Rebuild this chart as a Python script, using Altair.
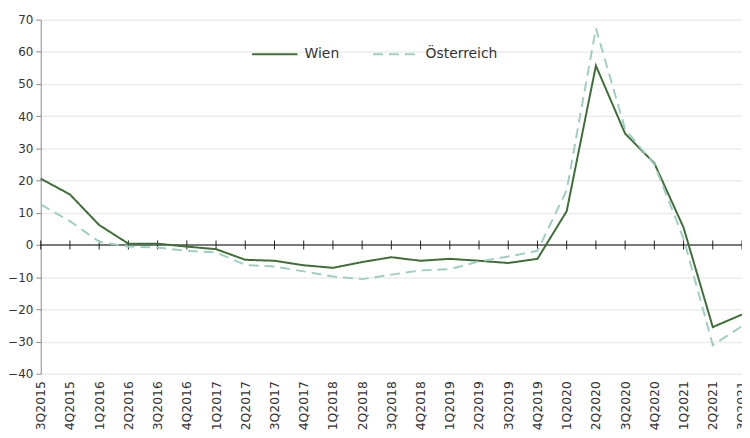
import altair as alt
import pandas as pd

quarters = ["3Q2015","4Q2015","1Q2016","2Q2016","3Q2016","4Q2016","1Q2017","2Q2017",
            "3Q2017","4Q2017","1Q2018","2Q2018","3Q2018","4Q2018","1Q2019","2Q2019",
            "3Q2019","4Q2019","1Q2020","2Q2020","3Q2020","4Q2020","1Q2021","2Q2021","3Q2021"]
wien = [20.6, 15.7, 6.2, 0.4, 0.4, -0.5, -1.3, -4.6, -4.9, -6.3, -7.1, -5.3, -3.8, -4.9,
        -4.3, -4.9, -5.6, -4.3, 10.5, 55.7, 34.6, 25.4, 5.4, -25.5, -21.6]
oesterreich = [12.6, 7.4, 1.0, -0.5, -0.8, -1.8, -2.3, -6.2, -6.7, -8.2, -9.8, -10.6, -9.2,
               -7.9, -7.5, -5.1, -3.6, -1.8, 17.0, 67.3, 36.0, 25.0, 2.0, -31.1, -25.2]
series_names = ["Wien", "Österreich"]
series_colors = ["#3f6f37", "#a0cfc2"]
y_ticks = list(range(-40, 80, 10))

rows = []
for q, w, o in zip(quarters, wien, oesterreich):
    rows.append({"q": q, "v": w, "s": series_names[0]})
    rows.append({"q": q, "v": o, "s": series_names[1]})
df = pd.DataFrame(rows)
zero_df = pd.DataFrame({"q": quarters, "v": [0] * len(quarters)})

font = "DejaVu Sans"

x_scale = alt.Scale(type="point", padding=0)
y_scale = alt.Scale(domain=[-40, 70], nice=False)
x_axis = alt.Axis(title=None, labelAngle=-90, ticks=False, domain=False, grid=False,
                  labelFontSize=12.5, labelColor="#333", labelPadding=7, labelFont=font)
y_axis = alt.Axis(title=None, values=y_ticks, grid=True,
                  gridColor="#ececec", gridWidth=1.5, domainColor="#8a8a8a",
                  tickColor="#8a8a8a", tickSize=5, labelFontSize=12,
                  labelColor="#333", labelPadding=3, labelFont=font,
                  labelOverlap=False)

x_enc = alt.X("q:N", sort=quarters, scale=x_scale, axis=x_axis)
y_enc = alt.Y("v:Q", scale=y_scale, axis=y_axis)

lines = alt.Chart(df).mark_line(strokeWidth=2).encode(
    x=x_enc, y=y_enc,
    color=alt.Color("s:N", scale=alt.Scale(domain=series_names, range=series_colors),
                    sort=series_names,
                    legend=alt.Legend(title=None, orient="none", legendX=212, legendY=11,
                                      direction="horizontal", symbolType="stroke",
                                      symbolSize=2100, symbolStrokeWidth=2,
                                      labelFontSize=14, labelFont=font, labelColor="#333",
                                      columnPadding=30, labelOffset=6)),
    strokeDash=alt.StrokeDash("s:N", scale=alt.Scale(domain=series_names, range=[[1, 0], [10, 6]]),
                              sort=series_names, legend=None),
)

zero_rule = alt.Chart(pd.DataFrame({"v": [0]})).mark_rule(color="#000", strokeWidth=1).encode(
    y=alt.Y("v:Q", scale=y_scale, axis=y_axis))
ticks = alt.Chart(zero_df).transform_calculate(
    lo="datum.v - 1.4", hi="datum.v + 1.4"
).mark_rule(color="#222", strokeWidth=1).encode(
    x=x_enc, y=alt.Y("lo:Q", scale=y_scale, axis=y_axis), y2="hi:Q")

chart = alt.layer(zero_rule, ticks, lines).properties(
    width=707, height=357,
    autosize=alt.AutoSizeParams(type="none"),
    padding={"left": 33, "top": 10, "right": 0, "bottom": 60},
    background="white",
).configure_view(stroke=None)

chart.save("out.html", embed_options={"renderer": "svg", "actions": False})
